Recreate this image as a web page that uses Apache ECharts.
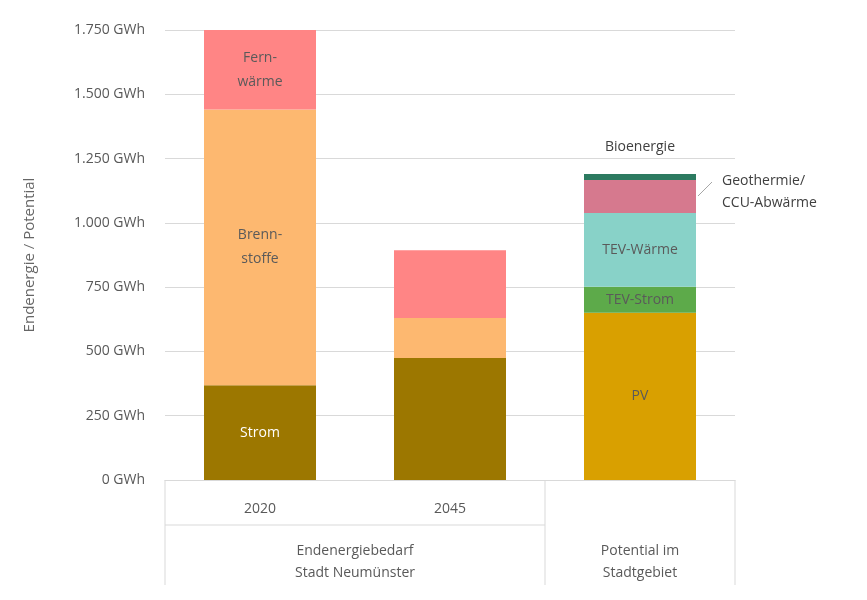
<!DOCTYPE html>
<html><head><meta charset="utf-8">
<script src="https://cdn.jsdelivr.net/npm/echarts@6/dist/echarts.min.js"></script>
<style>html,body{margin:0;background:#fff}#c{width:867px;height:600px}</style>
</head><body><div id="c"></div>
<script>
const categories = ['2020', '2045', 'Potential'];
const groupLabels = ['Endenergiebedarf\nStadt Neumünster', 'Potential im\nStadtgebiet'];
const yTicks = [0, 250, 500, 750, 1000, 1250, 1500, 1750];
const strom = [368, 474, null];
const brennstoffe = [1073, 156, null];
const fernwaerme = [321, 263, null];
const pv = [null, null, 650];
const tevStrom = [null, null, 102];
const tevWaerme = [null, null, 286];
const geothermie = [null, null, 129];
const bioenergie = [null, null, 23];

const font = 'Open Sans';
function s(name, data, color, label) {
  return {name, type: 'bar', stack: 't', data, barWidth: 112,
    itemStyle: {color},
    label: Object.assign({show: true, fontFamily: font, fontSize: 14, color: '#5a5a5a',
      formatter: p => p.value == null ? '' : label}, {}),
  };
}
const series = [
  s('Strom', strom, '#9C7700', 'Strom'),
  s('Brennstoffe', brennstoffe, '#FDB870', ''),
  s('Fernwärme', fernwaerme, '#FF8585', ''),
  s('PV', pv, '#D9A000', 'PV'),
  s('TEV-Strom', tevStrom, '#5DAA4A', 'TEV-Strom'),
  s('TEV-Wärme', tevWaerme, '#88D2C8', 'TEV-Wärme'),
  s('Geothermie', geothermie, '#D6798E', ''),
  s('Bioenergie', bioenergie, '#2C7A60', 'Bioenergie'),
];
series[0].label.color = '#fff';
series[0].label.formatter = p => p.dataIndex === 0 ? 'Strom' : '';
series[1].label.formatter = p => p.dataIndex === 0 ? 'Brenn-\nstoffe' : '';
series[1].label.lineHeight = 24;
series[2].label.formatter = p => p.dataIndex === 0 ? 'Fern-\nwärme' : '';
series[2].label.lineHeight = 24;
series[7].label.position = 'top';
series[7].label.distance = 20;
series[7].label.color = '#404040';
series[6].label = {show: true, position: 'right', distance: 26, fontFamily: font, fontSize: 14,
  color: '#404040', lineHeight: 22, formatter: p => p.value == null ? '' : 'Geothermie/\nCCU-Abwärme', offset:[0,-4]};

const chart = echarts.init(document.getElementById('c'));
chart.setOption({
  animation: false,
  grid: {left: 165, right: 132, top: 30, bottom: 120},
  xAxis: {type: 'category', data: categories,
    axisLine: {lineStyle: {color: '#d9d9d9'}}, axisTick: {show: false},
    axisLabel: {fontFamily: font, fontSize: 14, color: '#595959', margin: 22,
      formatter: v => v === 'Potential' ? '' : v}},
  yAxis: {type: 'value', min: 0, max: 1750, interval: 250,
    name: 'Endenergie / Potential', nameLocation: 'middle', nameGap: 128,
    nameTextStyle: {fontFamily: font, fontSize: 15, color: '#666'},
    axisLabel: {fontFamily: font, fontSize: 14, color: '#595959', margin: 20,
      formatter: v => v.toLocaleString('de-DE') + ' GWh'},
    splitLine: {lineStyle: {color: '#d9d9d9'}}},
  graphic: [
    {type: 'line', shape: {x1: 165, y1: 480, x2: 165, y2: 585}, style: {stroke: '#d9d9d9'}},
    {type: 'line', shape: {x1: 545, y1: 480, x2: 545, y2: 585}, style: {stroke: '#d9d9d9'}},
    {type: 'line', shape: {x1: 735, y1: 480, x2: 735, y2: 585}, style: {stroke: '#d9d9d9'}},
    {type: 'line', shape: {x1: 165, y1: 525, x2: 545, y2: 525}, style: {stroke: '#d9d9d9'}},
    {type: 'line', shape: {x1: 698, y1: 196, x2: 712, y2: 182}, style: {stroke: '#a6a6a6'}},
    {type: 'text', x: 355, y: 540, style: {text: groupLabels[0], font: '14px Open Sans', fill: '#595959', align: 'center', lineHeight: 22}},
    {type: 'text', x: 640, y: 540, style: {text: groupLabels[1], font: '14px Open Sans', fill: '#595959', align: 'center', lineHeight: 22}},
  ],
  series
});
</script></body></html>
